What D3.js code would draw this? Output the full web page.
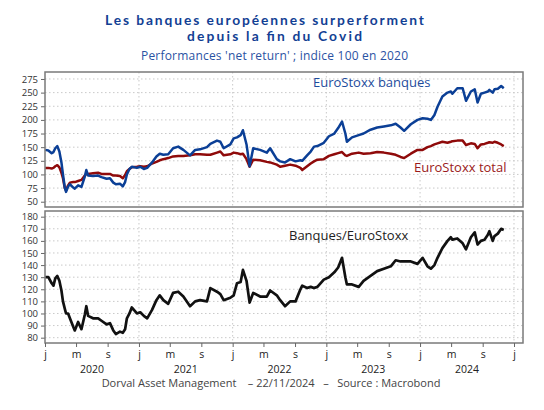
<!DOCTYPE html>
<html><head><meta charset="utf-8">
<script src="https://cdn.jsdelivr.net/npm/d3@7"></script>
<style>
html,body{margin:0;padding:0;background:#fff;}
svg{display:block;font-family:"Open Sans",sans-serif;}
</style></head>
<body>
<svg id="c" width="544" height="410"></svg>
<script>
const dates = ["2020-01-02","2020-01-14","2020-01-27","2020-02-03","2020-02-10","2020-02-18","2020-02-26","2020-03-05","2020-03-11","2020-03-18","2020-03-23","2020-03-31","2020-04-07","2020-04-20","2020-04-26","2020-05-09","2020-05-22","2020-06-04","2020-06-10","2020-06-17","2020-07-06","2020-07-26","2020-08-08","2020-08-28","2020-09-10","2020-09-23","2020-10-03","2020-10-19","2020-10-30","2020-11-08","2020-11-15","2020-11-25","2020-12-04","2020-12-24","2021-01-06","2021-01-20","2021-02-02","2021-02-21","2021-03-10","2021-03-23","2021-04-06","2021-04-25","2021-05-14","2021-06-03","2021-06-23","2021-07-19","2021-08-08","2021-08-27","2021-09-23","2021-10-06","2021-11-01","2021-11-14","2021-11-27","2021-12-23","2022-01-05","2022-01-18","2022-02-01","2022-02-10","2022-02-24","2022-03-08","2022-03-22","2022-04-18","2022-05-14","2022-05-27","2022-06-22","2022-07-05","2022-07-24","2022-08-13","2022-09-03","2022-09-22","2022-09-29","2022-10-18","2022-11-01","2022-11-14","2022-11-27","2022-12-22","2023-01-11","2023-02-01","2023-02-16","2023-03-03","2023-03-16","2023-03-22","2023-04-11","2023-05-07","2023-05-26","2023-06-22","2023-07-18","2023-08-13","2023-09-09","2023-09-28","2023-10-17","2023-10-31","2023-11-26","2023-12-22","2024-01-11","2024-01-30","2024-02-12","2024-02-26","2024-03-09","2024-03-28","2024-04-17","2024-04-30","2024-05-06","2024-05-25","2024-06-15","2024-06-28","2024-07-17","2024-08-01","2024-08-12","2024-08-25","2024-09-08","2024-09-21","2024-09-27","2024-10-10","2024-10-17","2024-10-30","2024-11-12","2024-11-22"];

const banques = [145,144,139,141,148,152,142,122,100,76,68,78,82,76,74,80,77,96,108,98,97,98,95,92,93,85,82,83,78,86,100,110,114,112,114,110,112,122,133,138,136,137,148,151,145,135,145,146,150,156,162,160,148,155,166,168,172,181,155,115,148,145,140,148,128,124,122,128,124,126,125,135,142,151,152,158,170,175,185,197,175,160,168,172,175,182,186,188,190,193,186,180,192,200,203,202,200,209,224,243,250,252,248,258,258,235,252,256,232,248,250,252,255,250,256,257,262,258];

const total = [112,112,111,112,115,117,113,103,93,75,71,80,85,86,86,88,90,98,101,101,102,103,101,101,101,98,98,97,93,99,106,110,113,114,115,114,115,120,123,126,128,130,133,134,134,135,137,137,136,136,140,142,135,137,140,139,137,138,128,114,127,126,123,122,118,114,116,118,116,112,108,115,120,124,127,128,134,137,139,141,135,134,138,140,138,139,141,140,138,136,132,130,138,145,145,150,152,155,157,160,158,160,161,162,162,154,157,156,148,155,156,158,159,158,160,158,155,152];

const ratio = [130,130,125,123,129,131,127,119,110,104,100,100,96,89,86,93,87,99,106,98,96,96,94,91,92,86,83,85,84,87,96,100,105,100,101,98,96,103,111,115,111,108,117,118,114,106,110,111,110,121,118,116,111,113,115,125,126,136,127,109,117,114,114,119,115,111,106,110,110,120,123,121,122,121,122,128,130,134,138,146,130,124,124,122,127,131,135,137,139,144,143,143,143,141,146,139,137,140,146,154,160,163,161,162,158,153,163,167,157,160,161,165,168,160,164,166,170,169];

const topTicks = [50,75,100,125,150,175,200,225,250,275];
const botTicks = [80,90,100,110,120,130,140,150,160,170,180];
const monthLabels = {0:"j",4:"m",8:"s"};
const years = [2020,2021,2022,2023,2024];

const parse = d3.timeParse("%Y-%m-%d");
const D = dates.map(parse);

const svg = d3.select("#c");
const L = 45, R = 523;
const topP = {y0:72, y1:207, dom:[40.3,287.8]};
const botP = {y0:211, y1:343, dom:[75.6,184.7]};

const x = d3.scaleTime().domain([new Date(2020,0,1), new Date(2025,1,5)]).range([L,R]);
const yT = d3.scaleLinear().domain(topP.dom).range([topP.y1, topP.y0]);
const yB = d3.scaleLinear().domain(botP.dom).range([botP.y1, botP.y0]);

const gridC = "#c9c9c9";
const yearStarts = d3.range(2021,2026).map(y=>new Date(y,0,1));

function panel(p, y, ticks){
  const g = svg.append("g");
  g.selectAll("line.h").data(ticks).join("line")
    .attr("x1",L).attr("x2",R).attr("y1",d=>y(d)).attr("y2",d=>y(d))
    .attr("stroke",gridC).attr("stroke-width",1).attr("stroke-dasharray","1.5,2.5");
  g.selectAll("line.v").data(yearStarts).join("line")
    .attr("x1",d=>x(d)).attr("x2",d=>x(d)).attr("y1",p.y0).attr("y2",p.y1)
    .attr("stroke",gridC).attr("stroke-width",1).attr("stroke-dasharray","1.5,2.5");
  const ax = svg.append("g").attr("transform",`translate(${L},0)`)
    .call(d3.axisLeft(y).tickValues(ticks).tickSize(4).tickPadding(3));
  ax.select(".domain").remove();
  ax.selectAll("line").attr("stroke","#666");
  ax.selectAll("text").attr("font-size","9.5px").attr("fill","#333").attr("font-family","Open Sans, sans-serif");
  return g;
}

panel(topP, yT, topTicks);
panel(botP, yB, botTicks);

const lineT = (vals)=> d3.line().x((d,i)=>x(D[i])).y(d=>yT(d))(vals);
svg.append("path").attr("d", lineT(total)).attr("fill","none").attr("stroke","#8f0a0a").attr("stroke-width",2.5).attr("stroke-linejoin","round");
svg.append("path").attr("d", lineT(banques)).attr("fill","none").attr("stroke","#0b3f96").attr("stroke-width",2.5).attr("stroke-linejoin","round");
const lineB = d3.line().x((d,i)=>x(D[i])).y(d=>yB(d));
svg.append("path").attr("d", lineB(ratio)).attr("fill","none").attr("stroke","#111").attr("stroke-width",2.7).attr("stroke-linejoin","round");

[topP, botP].forEach(p=>{
  svg.append("rect").attr("x",L).attr("y",p.y0).attr("width",R-L).attr("height",p.y1-p.y0)
    .attr("fill","none").attr("stroke","#7a7a7a").attr("stroke-width",1.5);
});

const tickDates = [];
years.forEach(yr=>[0,4,8].forEach(m=>tickDates.push(new Date(yr,m,1))));
tickDates.push(new Date(2025,0,1));
const xa = svg.append("g").attr("transform",`translate(0,${botP.y1})`)
  .call(d3.axisBottom(x).tickValues(tickDates).tickSize(4).tickPadding(4)
    .tickFormat(d=>monthLabels[d.getMonth()]));
xa.select(".domain").remove();
xa.selectAll("line").attr("stroke","#666");
xa.selectAll("text").attr("font-size","10.5px").attr("fill","#222").attr("font-family","Open Sans, sans-serif");

svg.append("g").selectAll("text").data(years).join("text")
  .attr("x",d=>(x(new Date(d,0,1))+x(new Date(d+1,0,1)))/2).attr("y",373)
  .attr("text-anchor","middle").attr("font-size","10.5px").attr("fill","#222").text(d=>d);

// title
svg.append("text").attr("x",105).attr("y",24.5)
  .attr("font-family","Lato, sans-serif").attr("font-size","13.8px").attr("font-weight","700").attr("fill","#133f94")
  .attr("textLength",319).attr("lengthAdjust","spacing")
  .text("Les banques européennes surperforment");
svg.append("text").attr("x",187).attr("y",41.3)
  .attr("font-family","Lato, sans-serif").attr("font-size","13.8px").attr("font-weight","700").attr("fill","#133f94")
  .attr("textLength",175).attr("lengthAdjust","spacing")
  .text("depuis la fin du Covid");

svg.append("text").attr("x",141).attr("y",60)
  .attr("font-size","12px").attr("fill","#2a52a3").attr("textLength",267).attr("lengthAdjust","spacing")
  .text("Performances 'net return' ; indice 100 en 2020");

svg.append("text").attr("x",313).attr("y",87).attr("font-size","13px").attr("fill","#1d4b9c").text("EuroStoxx banques");
svg.append("text").attr("x",414).attr("y",172).attr("font-size","13px").attr("fill","#9a1a1a").text("EuroStoxx total");
svg.append("text").attr("x",289).attr("y",240).attr("font-size","13px").attr("fill","#222").text("Banques/EuroStoxx");

svg.append("text").attr("x",271).attr("y",387).attr("text-anchor","middle")
  .attr("font-size","11px").attr("fill","#444").attr("xml:space","preserve")
  .text("Dorval Asset Management    \u2013 22/11/2024   \u2013   Source : Macrobond");
</script>
</body></html>
